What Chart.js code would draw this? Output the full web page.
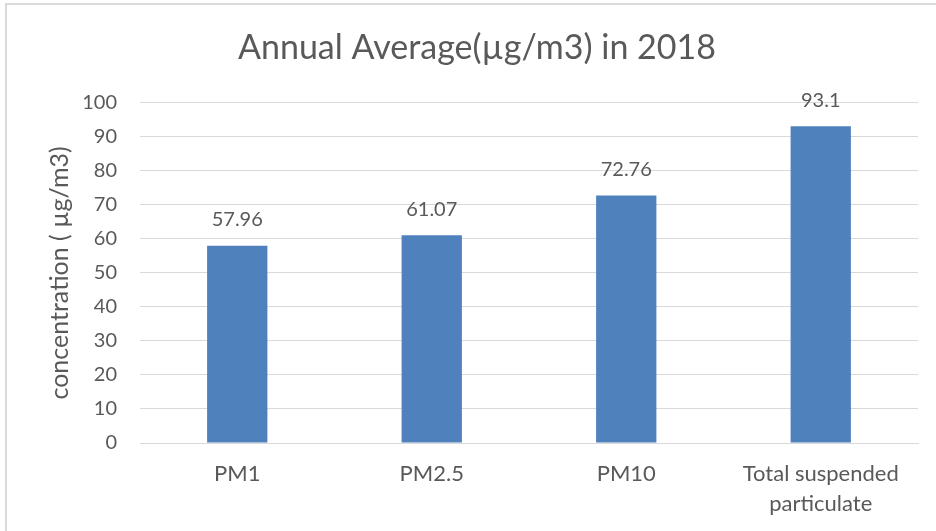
<!DOCTYPE html>
<html>
<head>
<meta charset="utf-8">
<script src="https://cdn.jsdelivr.net/npm/chart.js@4"></script>
<style>
  html, body { margin: 0; padding: 0; background: #fff; }
  #wrap { position: relative; width: 936px; height: 531px; overflow: hidden; }
  #frame { position: absolute; left: 5px; top: 3px; width: 1000px; height: 1000px; border-left: 2px solid #d9d9d9; border-top: 2px solid #d9d9d9; box-sizing: border-box; pointer-events: none; }
  canvas { position: absolute; left: 0; top: 0; }
</style>
</head>
<body>
<div id="wrap">
  <canvas id="c" width="936" height="531"></canvas>
  <div id="frame"></div>
</div>
<script>
const categories = ['PM1', 'PM2.5', 'PM10', ['Total suspended', 'particulate']];
const values = [57.96, 61.07, 72.76, 93.1];
const valueLabels = ['57.96', '61.07', '72.76', '93.1'];
const yTicks = [0, 10, 20, 30, 40, 50, 60, 70, 80, 90, 100];
const chartTitle = 'Annual Average(µg/m3) in 2018';
const yTitle = 'concentration ( µg/m3)';

const FONT = 'Lato, "Open Sans", sans-serif';
const TXT = '#595959';

const dataLabels = {
  id: 'dataLabels',
  afterDatasetsDraw(chart) {
    const ctx = chart.ctx;
    const meta = chart.getDatasetMeta(0);
    ctx.save();
    ctx.font = '20px ' + FONT;
    ctx.fillStyle = TXT;
    ctx.textAlign = 'center';
    ctx.textBaseline = 'middle';
    meta.data.forEach((bar, i) => {
      ctx.fillText(valueLabels[i], bar.x, bar.y - 26);
    });
    ctx.restore();
  }
};

new Chart(document.getElementById('c'), {
  type: 'bar',
  data: {
    labels: categories,
    datasets: [{
      data: values,
      backgroundColor: '#4f81bd',
      borderWidth: 0,
      categoryPercentage: 1,
      barPercentage: 0.31
    }]
  },
  options: {
    responsive: false,
    animation: false,
    events: [],
    layout: { padding: { left: 36, right: 18, top: 0, bottom: 0 } },
    plugins: {
      legend: { display: false },
      tooltip: { enabled: false },
      title: {
        display: true,
        text: chartTitle,
        color: TXT,
        font: { family: FONT, size: 34, weight: 'normal', lineHeight: 1.2 },
        padding: { top: 28, bottom: 34 }
      }
    },
    scales: {
      x: {
        grid: { display: false, drawTicks: false },
        border: { display: true, color: '#d9d9d9', width: 1 },
        ticks: {
          color: TXT,
          font: { family: FONT, size: 22, lineHeight: 1.35 },
          padding: 16,
          maxRotation: 0,
          autoSkip: false
        },
        afterFit(s) { s.height = 88; }
      },
      y: {
        min: 0,
        max: 100,
        afterBuildTicks(s) { s.ticks = yTicks.map(v => ({ value: v })); },
        grid: { color: '#d9d9d9', lineWidth: 1, drawTicks: false },
        border: { display: false },
        ticks: {
          color: TXT,
          font: { family: FONT, size: 20 },
          padding: 23
        },
        title: {
          display: true,
          text: yTitle,
          color: TXT,
          font: { family: FONT, size: 25 },
          padding: { top: 9, bottom: 0 }
        },
        afterFit(s) { s.width = 104; }
      }
    }
  },
  plugins: [dataLabels]
});
</script>
</body>
</html>
